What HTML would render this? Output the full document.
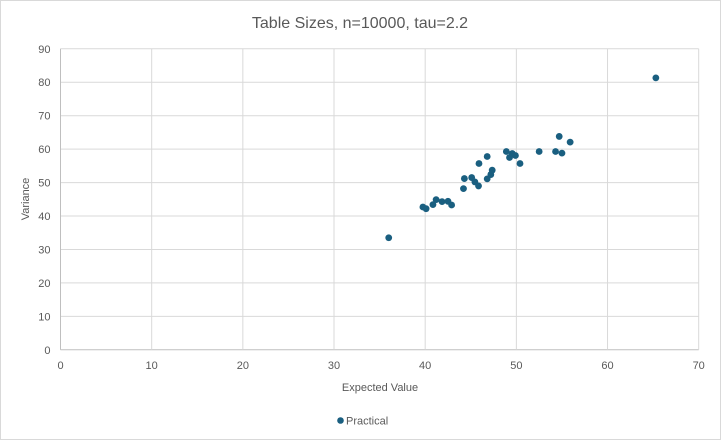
<!DOCTYPE html>
<html><head><meta charset="utf-8"><style>
body{margin:0;background:#fff;}
svg{display:block;font-family:"Liberation Sans",sans-serif;}
</style></head><body>
<svg id="chart" width="721" height="440" viewBox="0 0 721 440">
<rect x="0.5" y="0.5" width="720" height="439" fill="#fff" stroke="#d9d9d9"/>
<text x="360" y="28" text-anchor="middle" font-size="16" fill="#595959">Table Sizes, n=10000, tau=2.2</text>
<g id="grid"></g>
<g id="pts"></g>
<text x="380" y="391" text-anchor="middle" font-size="11" fill="#595959">Expected Value</text>
<text transform="translate(29,199) rotate(-90)" text-anchor="middle" font-size="11" fill="#595959">Variance</text>
<g>
<circle cx="340.5" cy="420.5" r="3.3" fill="#1a5f80"/>
<text x="346" y="424.5" font-size="11" fill="#595959">Practical</text>
</g>
</svg>
<script>
const xs=[36.0,39.75,40.1,40.85,41.2,41.85,42.5,42.9,44.2,44.3,45.1,45.45,45.85,45.9,46.8,46.8,47.2,47.35,48.9,49.25,49.55,49.9,50.4,52.5,54.3,54.7,55.0,55.9,65.3];
const ys=[33.5,42.7,42.2,43.4,44.9,44.3,44.4,43.3,48.2,51.2,51.5,50.2,49.0,55.7,57.8,51.1,52.4,53.7,59.3,57.5,58.7,58.1,55.7,59.3,59.3,63.8,58.8,62.1,81.3];
const xTicks=[0,10,20,30,40,50,60,70];
const yTicks=[0,10,20,30,40,50,60,70,80,90];
const L=60.5,R=698.7,T=48.8,B=349.8;
const sx=v=>L+(v-0)/70*(R-L);
const sy=v=>B-(v-0)/90*(B-T);
const NS="http://www.w3.org/2000/svg";
const g=document.getElementById('grid'),p=document.getElementById('pts');
function mk(tag,a,parent){const e=document.createElementNS(NS,tag);for(const k in a)e.setAttribute(k,a[k]);parent.appendChild(e);return e;}
yTicks.forEach(v=>{
 const l=mk('line',{x1:L,x2:R,y1:sy(v),y2:sy(v),stroke:v===0?'#bfbfbf':'#d9d9d9','stroke-width':1},g);
 
 
 const t=mk('text',{x:L-10,y:sy(v)+4,'text-anchor':'end','font-size':11,fill:'#595959'},g);t.textContent=v;
 
 
});
xTicks.forEach(v=>{
 const l=mk('line',{x1:sx(v),x2:sx(v),y1:T,y2:B,stroke:v===0?'#bfbfbf':'#d9d9d9','stroke-width':1},g);
 
 
 const t=mk('text',{x:sx(v),y:B+19,'text-anchor':'middle','font-size':11,fill:'#595959'},g);t.textContent=v;
 
 
});
xs.forEach((x,i)=>{
 const c=mk('circle',{cx:sx(x),cy:sy(ys[i]),r:3.4,fill:'#1a5f80'},p);
 
 
});
</script>
</body></html>
